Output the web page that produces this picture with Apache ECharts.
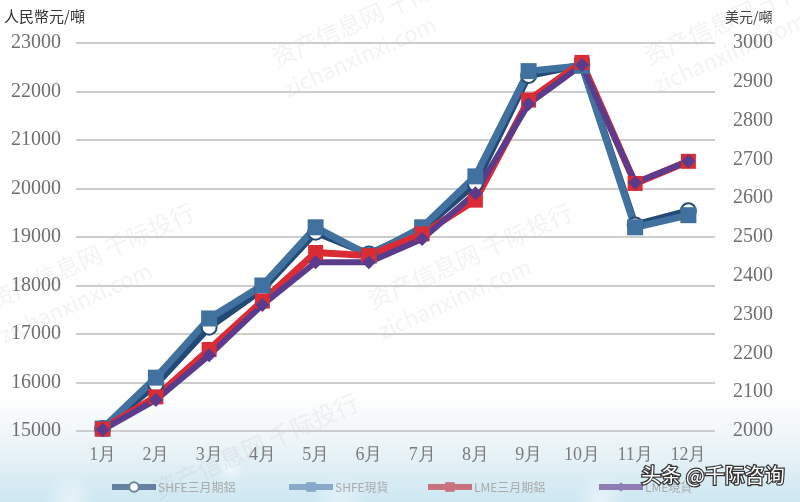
<!DOCTYPE html>
<html>
<head>
<meta charset="utf-8">
<style>html,body{margin:0;padding:0;background:#fff}#main{width:800px;height:502px}</style>
<script src="https://cdn.jsdelivr.net/npm/echarts@6/dist/echarts.min.js"></script>
</head>
<body>
<div id="main"></div>
<script>
const months = ['1月','2月','3月','4月','5月','6月','7月','8月','9月','10月','11月','12月']
const shfeThree = [15050,15960,17140,17920,19100,18650,19150,20100,22330,22550,19250,19540]
const shfeSpot = [15050,16100,17320,18000,19200,18620,19200,20250,22420,22530,19200,19450]
const lmeThree = [2005,2088,2210,2335,2460,2452,2508,2595,2853,2950,2638,2695]
const lmeSpot = [2003,2080,2195,2325,2435,2435,2495,2613,2843,2943,2640,2695]
const names = ['SHFE三月期鋁','SHFE現貨','LME三月期鋁','LME現貨']
const legendLeft = [104,281,420,591]
const legendColors = ['#66809f','#88a9c9','#c8727f','#8f7db3']

const wmCn = '资产信息网 千际投行'
const wmEn = 'zichanxinxi.com'
// watermark anchors: [text, x, y, font size]
const marks = [
  [wmCn,268,48,24],[wmEn,280,80,22],[wmCn,640,46,24],[wmEn,650,76,22],
  [wmCn,-14,290,24],[wmEn,-4,326,22],[wmCn,364,290,24],[wmEn,375,322,22],
  [wmCn,150,480,24]
]
// soft clouds in the sky strip at the bottom
const clouds = [[70,500,220,26],[340,506,240,30],[600,500,190,26],[230,470,170,14]]

const chart = echarts.init(document.getElementById('main'))
chart.setOption({
  animation: false,
  backgroundColor: {
    type: 'linear', x: 0, y: 0, x2: 0, y2: 1,
    colorStops: [
      {offset: 0, color: '#ffffff'},
      {offset: 0.78, color: '#ffffff'},
      {offset: 0.86, color: '#f2f7f9'},
      {offset: 0.93, color: '#e0eff5'},
      {offset: 1, color: '#cde7f2'},
    ],
  },
  graphic: [
    ...clouds.map(([cx, cy, rx, ry]) => ({
      type: 'ellipse', silent: true, z: -1,
      shape: {cx, cy, rx, ry},
      style: {fill: {type: 'radial', x: 0.5, y: 0.5, r: 0.5, colorStops: [
        {offset: 0, color: 'rgba(255,255,255,0.5)'},
        {offset: 1, color: 'rgba(255,255,255,0)'},
      ]}},
    })),
    ...marks.map(([text, x, y, size]) => ({
      type: 'text', silent: true, z: -1, x, y,
      rotation: 0.42,
      style: {text, fill: 'rgba(170,170,170,0.14)', font: size + 'px "Noto Sans CJK SC"'},
    })),
    {
      type: 'text', left: 640, top: 464, z: 100, silent: true,
      style: {
        text: '头条 @千际咨询', fill: '#fff', font: '20px "Noto Sans CJK SC"',
        stroke: '#333', lineWidth: 2.5,
      },
    },
  ],
  legend: names.map((name, i) => ({
    data: [name],
    left: legendLeft[i],
    top: 476,
    itemWidth: 44,
    itemHeight: 12,
    itemGap: 0,
    lineStyle: {color: legendColors[i], width: 6},
    itemStyle: i == 0 ? {color: '#fff', borderColor: legendColors[i], borderWidth: 2} : {color: legendColors[i], borderColor: legendColors[i]},
    textStyle: {color: '#ababab', fontSize: 12, fontFamily: 'Noto Sans CJK TC', padding: [0,0,0,-3]},
  })),
  grid: {left: 76, right: 85, top: 43, bottom: 71},
  xAxis: {
    type: 'category',
    data: months,
    axisLine: {show: false},
    axisTick: {show: false},
    axisLabel: {color: '#7b7b7b', fontSize: 18, margin: 15, fontFamily: 'Liberation Serif', interval: 0},
  },
  yAxis: [
    {
      type: 'value', min: 15000, max: 23000, interval: 1000,
      name: '人民幣元/噸',
      nameGap: 19,
      nameTextStyle: {color: '#333', fontSize: 15, fontFamily: 'Noto Sans CJK TC', align: 'left', padding: [0,0,0,-72]},
      axisLine: {show: false},
      axisTick: {show: false},
      axisLabel: {color: '#6f6f6f', fontSize: 20, margin: 15, fontFamily: 'Liberation Serif', formatter: v => String(v)},
      splitLine: {lineStyle: {color: '#cdcdcd', width: 2}},
    },
    {
      type: 'value', min: 2000, max: 3000, interval: 100,
      name: '美元/噸',
      nameGap: 19,
      nameTextStyle: {color: '#444', fontSize: 14, fontFamily: 'Noto Sans CJK TC', align: 'left', padding: [0,0,0,10]},
      axisLine: {show: false},
      axisTick: {show: false},
      axisLabel: {color: '#6f6f6f', fontSize: 20, margin: 18, fontFamily: 'Liberation Serif', formatter: v => String(v)},
      splitLine: {show: false},
    },
  ],
  series: [
    {name: names[0], type: 'line', yAxisIndex: 0, data: shfeThree, symbol: 'circle', symbolSize: 15,
      showAllSymbol: true,
      lineStyle: {color: '#234a76', width: 7}, itemStyle: {color: '#fff', borderColor: '#234a76', borderWidth: 2}},
    {name: names[1], type: 'line', yAxisIndex: 0, data: shfeSpot, symbol: 'rect', symbolSize: 16,
      showAllSymbol: true,
      lineStyle: {color: '#41719f', width: 7}, itemStyle: {color: '#41719f'}},
    {name: names[2], type: 'line', yAxisIndex: 1, data: lmeThree, symbol: 'rect', symbolSize: 15,
      showAllSymbol: true,
      lineStyle: {color: '#db2b35', width: 7}, itemStyle: {color: '#db2b35'}},
    {name: names[3], type: 'line', yAxisIndex: 1, data: lmeSpot, symbol: 'diamond', symbolSize: 14,
      showAllSymbol: true,
      lineStyle: {color: '#5b3b8c', width: 6}, itemStyle: {color: '#5b3b8c'}},
  ],
})
</script>
</body>
</html>
